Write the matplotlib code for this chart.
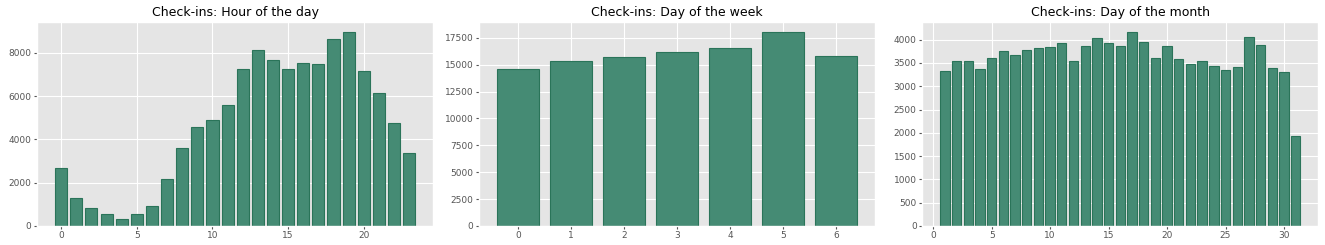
import numpy as np
import matplotlib.pyplot as plt

plt.style.use('ggplot')

# check-ins par heure, jour de la semaine, jour du mois
hours = list(range(24))
hour_counts = [2680, 1270, 840, 550, 310, 550, 930, 2160, 3620, 4580, 4890, 5570,
               7250, 8130, 7680, 7250, 7530, 7490, 8630, 8970, 7160, 6130, 4750, 3380]

weekdays = list(range(7))
weekday_counts = [14620, 15350, 15680, 16180, 16540, 18060, 15830]

monthdays = list(range(1, 32))
monthday_counts = [3330, 3550, 3540, 3370, 3600, 3760, 3660, 3780, 3820, 3840, 3930,
                   3550, 3870, 4040, 3930, 3870, 4170, 3950, 3610, 3870, 3590, 3470,
                   3540, 3430, 3340, 3410, 4060, 3890, 3390, 3310, 1940]

titles = ["Check-ins: Hour of the day", "Check-ins: Day of the week",
          "Check-ins: Day of the month"]

fig = plt.figure(figsize=(13.25, 2.45), dpi=100)
lefts = [0.028, 0.3615, 0.696]
width = 0.299
axes = [fig.add_axes([l, 0.078, width, 0.832]) for l in lefts]

data = [(hours, hour_counts), (weekdays, weekday_counts), (monthdays, monthday_counts)]
for ax, (x, y), t in zip(axes, data, titles):
    ax.bar(x, y, color='#458b74', edgecolor='#2a7459', linewidth=0.8)
    ax.set_title(t, fontsize=9, pad=4)
    ax.tick_params(labelsize=6.5, length=2, pad=2)

axes[0].set_xticks([0, 5, 10, 15, 20])
axes[2].set_xticks([0, 5, 10, 15, 20, 25, 30])
axes[2].set_yticks(np.arange(0, 4001, 500))

fig.savefig('out.png', dpi=100)
